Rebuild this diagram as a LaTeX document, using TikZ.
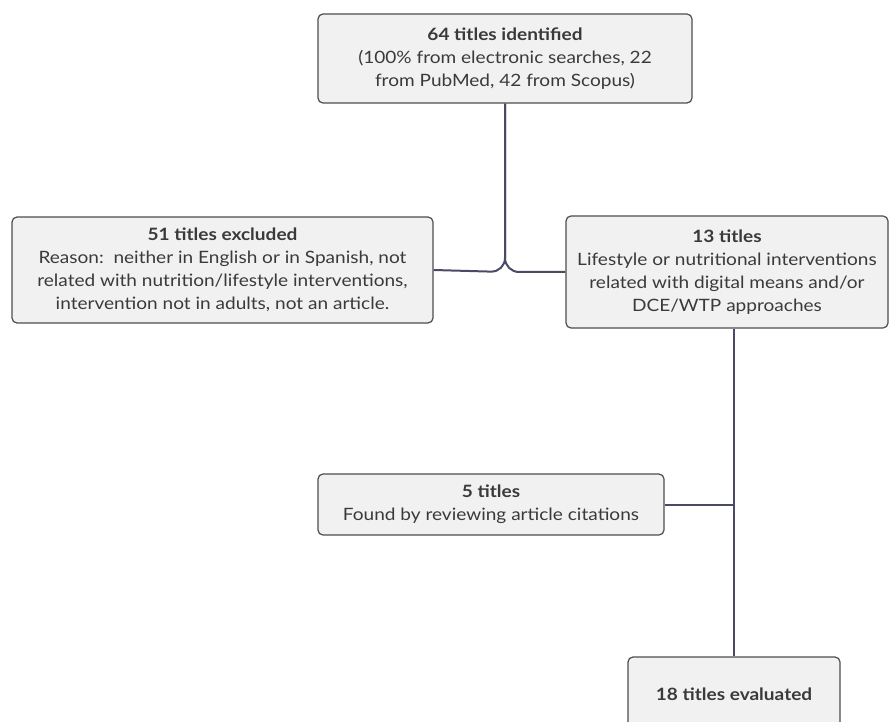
\documentclass[tikz,border=0pt]{standalone}
\usepackage{fontspec}
\setmainfont[FakeStretch=1.12]{Lato}
\usepackage{tikz}

\definecolor{boxfill}{HTML}{F1F1F1}
\definecolor{boxline}{HTML}{4D4D4D}
\definecolor{boxtext}{HTML}{3A3A3A}
\definecolor{linkline}{HTML}{4B4A66}

\begin{document}
\begin{tikzpicture}[x=1pt,y=-1pt,
  box/.style={draw=boxline,fill=boxfill,line width=1.2pt,rounded corners=5pt,
    align=center,text=boxtext,inner sep=0pt,
    font=\fontsize{17}{23}\selectfont},
  link/.style={draw=linkline,line width=2pt,rounded corners=14pt}]

% Page size as the reference
\useasboundingbox (0,0) rectangle (892,722);
\clip (0,0) rectangle (892,722);

% Boxes
\node [box,minimum width=374pt,minimum height=89pt] (found) at (505,58.5)
  {\textbf{64 titles identified}\\(100\% from electronic searches, 22\\from PubMed, 42 from Scopus)};
\node [box,minimum width=421pt,minimum height=106pt] (excl) at (222.5,270)
  {\textbf{51 titles excluded}\\Reason:\ \ neither in English or in Spanish, not\\related with nutrition/lifestyle interventions,\\intervention not in adults, not an article.};
\node [box,minimum width=322pt,minimum height=112pt] (incl) at (727,272)
  {\textbf{13 titles}\\Lifestyle or nutritional interventions\\related with digital means and/or\\DCE/WTP approaches};
\node [box,minimum width=346pt,minimum height=61pt] (cited) at (491,504.5)
  {\textbf{5 titles}\\Found by reviewing article citations};
\node [box,minimum width=212pt,minimum height=74pt] (eval) at (734,694)
  {\textbf{18 titles evaluated}};

% Split below the first box
\coordinate (split) at (found.south |- incl.west);
\draw [link] (found.south) -- (split) -- (excl.east);
\draw [link] (found.south) -- (split) -- (incl.west);

% Citations join the path to the last box
\draw [link] (incl.south -| eval.north) -- (eval.north);
\draw [link] (cited.east) -- (cited.east -| eval.north);

\end{tikzpicture}
\end{document}
